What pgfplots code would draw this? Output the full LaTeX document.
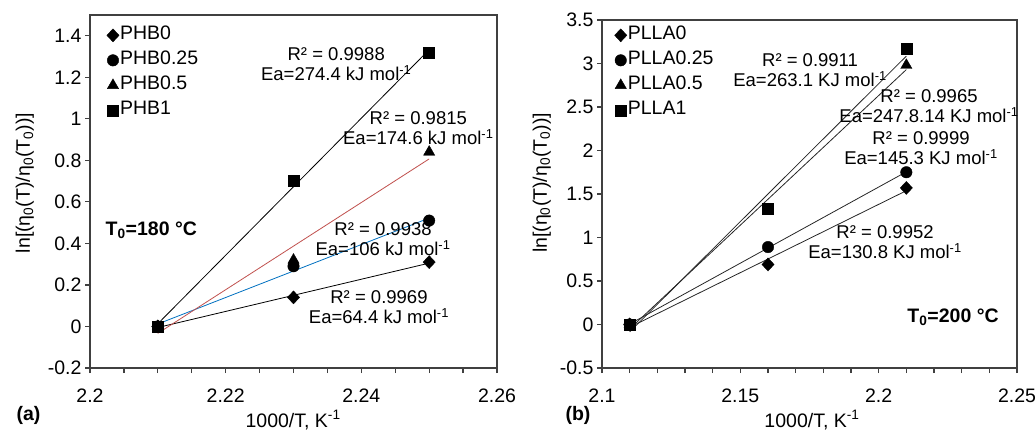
\documentclass[border=0pt]{standalone}
\usepackage{fontspec}
\setmainfont{Liberation Sans}
\usepackage{pgfplots}
\pgfplotsset{compat=1.18}
\definecolor{axgray}{RGB}{64,64,64}
\definecolor{trred}{RGB}{192,80,77}
\definecolor{trblue}{RGB}{0,112,192}
\newcommand{\f}{\fontsize{18.5}{20}\selectfont}
\newcommand{\ft}{\fontsize{19.5}{21}\selectfont}
\pgfplotsset{
  myax/.style={
    scale only axis, anchor=south west,
    axis line style={axgray, line width=1.2pt},
    tick style={axgray, line width=1.2pt},
    tick align=outside,
    major tick length=5pt, minor tick length=5pt,
    xtick pos=left, ytick pos=left,
    tick label style={font=\ft},
    xticklabel style={yshift=-12pt},
    label style={font=\ft},
    legend style={draw=none, fill=none, font=\ft, anchor=north west, inner sep=0pt,
      nodes={inner sep=1pt, text height=12pt, text depth=3pt}, row sep=8pt, column sep=0pt},
    legend cell align=left,
  }
}
\begin{document}
\begin{tikzpicture}
\path[use as bounding box] (0,0) rectangle (1035pt,431pt);
% ---------- (a) ----------
\begin{axis}[myax, at={(90pt,63pt)}, width=407pt, height=353pt,
  xmin=2.2, xmax=2.26, ymin=-0.2, ymax=1.5,
  xtick={2.2,2.22,2.24,2.26}, xticklabels={2.2,2.22,2.24,2.26},
  minor xtick={2.205,2.21,2.215,2.225,2.23,2.235,2.245,2.25,2.255},
  ytick={-0.2,0,0.2,0.4,0.6,0.8,1,1.2,1.4},
  yticklabels={-0.2,0,0.2,0.4,0.6,0.8,1,1.2,1.4},
  xlabel={1000/T, K\textsuperscript{-1}},
  ylabel={ln[(η\textsubscript{0}(T)/η\textsubscript{0}(T\textsubscript{0}))]},
  xlabel style={at={(axis description cs:0.499,-0.147)}, anchor=center},
  ylabel style={at={(axis description cs:-0.16,0.524)}, anchor=center},
  legend style={at={(axis description cs:0.041,0.967)}},
]
\addplot[only marks, mark=diamond*, mark size=6.5pt, mark options={xscale=1.25}, black] coordinates {(2.21,0) (2.23,0.14) (2.25,0.31)};
\addlegendentry{PHB0}
\addplot[only marks, mark=*, mark size=5.75pt, black] coordinates {(2.21,0) (2.23,0.29) (2.25,0.51)};
\addlegendentry{PHB0.25}
\addplot[only marks, mark=triangle*, mark size=6.5pt, black] coordinates {(2.21,0) (2.23,0.32) (2.25,0.84)};
\addlegendentry{PHB0.5}
\addplot[only marks, mark=square*, mark size=5.5pt, black] coordinates {(2.21,0) (2.23,0.70) (2.25,1.32)};
\addlegendentry{PHB1}
\addplot[black, line width=0.8pt, forget plot] coordinates {(2.21,-0.005) (2.25,0.305)};
\addplot[trblue, line width=0.8pt, forget plot] coordinates {(2.21,0.012) (2.25,0.522)};
\addplot[trred, line width=0.8pt, forget plot] coordinates {(2.21,-0.033) (2.25,0.807)};
\addplot[black, line width=0.8pt, forget plot] coordinates {(2.21,0.013) (2.25,1.333)};
\node[font=\f, align=center] at (axis cs:2.2363,1.264) {R² = 0.9988\\Ea=274.4 kJ mol\textsuperscript{-1}};
\node[font=\f, align=center] at (axis cs:2.2484,0.953) {R² = 0.9815\\Ea=174.6 kJ mol\textsuperscript{-1}};
\node[font=\f, align=center] at (axis cs:2.2432,0.419) {R² = 0.9938\\Ea=106 kJ mol\textsuperscript{-1}};
\node[font=\f, align=center] at (axis cs:2.2426,0.094) {R² = 0.9969\\Ea=64.4 kJ mol\textsuperscript{-1}};
\node[font=\ft\bfseries, anchor=west] at (axis cs:2.2018,0.465) {T\textsubscript{0}=180 °C};
\end{axis}
% ---------- (b) ----------
\begin{axis}[myax, at={(602pt,63pt)}, width=415pt, height=348pt,
  xmin=2.1, xmax=2.25, ymin=-0.5, ymax=3.5,
  xtick={2.1,2.15,2.2,2.25}, xticklabels={2.1,2.15,2.2,2.25},
  minor xtick={2.11,2.12,2.13,2.14,2.16,2.17,2.18,2.19,2.21,2.22,2.23,2.24},
  ytick={-0.5,0,0.5,1,1.5,2,2.5,3,3.5},
  yticklabels={-0.5,0,0.5,1,1.5,2,2.5,3,3.5},
  xlabel={1000/T, K\textsuperscript{-1}},
  ylabel={ln[(η\textsubscript{0}(T)/η\textsubscript{0}(T\textsubscript{0}))]},
  xlabel style={at={(axis description cs:0.506,-0.149)}, anchor=center},
  ylabel style={at={(axis description cs:-0.145,0.532)}, anchor=center},
  legend style={at={(axis description cs:0.030,0.981)}},
]
\addplot[only marks, mark=diamond*, mark size=6.5pt, mark options={xscale=1.25}, black] coordinates {(2.11,0) (2.16,0.69) (2.21,1.57)};
\addlegendentry{PLLA0}
\addplot[only marks, mark=*, mark size=5.75pt, black] coordinates {(2.11,0) (2.16,0.89) (2.21,1.75)};
\addlegendentry{PLLA0.25}
\addplot[only marks, mark=triangle*, mark size=6.5pt, black] coordinates {(2.11,0) (2.16,1.32) (2.21,2.98)};
\addlegendentry{PLLA0.5}
\addplot[only marks, mark=square*, mark size=5.5pt, black] coordinates {(2.11,0) (2.16,1.33) (2.21,3.17)};
\addlegendentry{PLLA1}
\addplot[black!85, line width=0.8pt, forget plot] coordinates {(2.11,-0.032) (2.21,1.538)};
\addplot[black!85, line width=0.8pt, forget plot] coordinates {(2.11,0.005) (2.21,1.755)};
\addplot[black!85, line width=0.8pt, forget plot] coordinates {(2.11,-0.05) (2.21,2.93)};
\addplot[black!85, line width=0.8pt, forget plot] coordinates {(2.11,-0.085) (2.21,3.085)};
\node[font=\f, align=center] at (axis cs:2.1752,2.92) {R² = 0.9911\\Ea=263.1 KJ mol\textsuperscript{-1}};
\node[font=\f, align=center] at (axis cs:2.2182,2.506) {R² = 0.9965\\Ea=247.8.14 KJ mol\textsuperscript{-1}};
\node[font=\f, align=center] at (axis cs:2.2153,2.029) {R² = 0.9999\\Ea=145.3 KJ mol\textsuperscript{-1}};
\node[font=\f, align=center] at (axis cs:2.2023,0.948) {R² = 0.9952\\Ea=130.8 KJ mol\textsuperscript{-1}};
\node[font=\ft\bfseries] at (axis cs:2.2269,0.086) {T\textsubscript{0}=200 °C};
\end{axis}
\node[font=\ft\bfseries, anchor=west] at (13pt,16pt) {(a)};
\node[font=\ft\bfseries, anchor=west] at (562pt,16pt) {(b)};
\end{tikzpicture}
\end{document}
